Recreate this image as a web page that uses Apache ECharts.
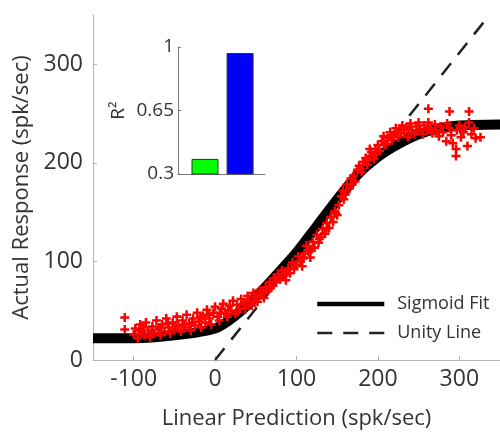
<!DOCTYPE html>
<html lang="en">
<head>
<meta charset="UTF-8">
<title>Sigmoid Fit</title>
<script src="https://cdn.jsdelivr.net/npm/echarts@6/dist/echarts.min.js"></script>
<style>
html,body{margin:0;padding:0;background:#fff;}
#chart{width:500px;height:435px;}
</style>
</head>
<body>
<div id="chart"></div>
<script>
// tick labels
var xTicks = [-100, 0, 100, 200, 300];
var yTicks = [0, 100, 200, 300];

// sigmoid fit
var fitX = [-150, -100, -50, 0, 25, 50, 75, 100, 125, 150, 175, 200, 225, 250, 275, 300, 350];
var fitY = [22, 22, 25, 32, 45, 64, 86, 109, 136, 163, 188, 206, 219, 229, 235, 238, 239];

// unity line
var unityX = [0, 337];
var unityY = [0, 350];

// measured responses [linear prediction, actual response]
var measured = [
  [-111,43],[-111,31],[-100,26],[-98,32],[-95,22],[-92,36],[-90,28],[-87,25],[-85,38],[-82,30],
  [-80,23],[-77,34],[-75,27],[-72,40],[-70,31],[-67,25],[-65,36],[-62,29],[-60,42],[-57,33],
  [-55,27],[-52,38],[-50,31],[-47,44],[-45,35],[-42,29],[-40,40],[-37,33],[-35,46],[-32,37],
  [-30,30],[-27,42],[-25,35],[-22,48],[-20,39],[-17,33],[-15,45],[-12,38],[-10,51],[-7,42],
  [-5,36],[-2,48],[0,54],
  [-93,30],[-88,33],[-78,29],[-68,33],[-58,37],[-48,35],[-38,36],[-28,38],[-18,43],[-8,46],
  [3,44],[5,40],[8,52],[10,57],[13,47],[15,44],[18,55],[20,50],[22,60],[25,47],
  [27,56],[30,52],[32,62],[35,57],[37,52],[40,65],[42,60],[45,55],[47,68],[50,64],
  [52,59],[55,71],[57,66],[60,63],[6,48],[16,50],[28,49],[38,58],[48,61],[58,69],
  [62,74],[65,70],[67,79],[70,75],[72,83],[75,79],[77,87],[80,82],[82,91],[85,86],
  [87,81],[90,93],[92,88],[95,99],[97,92],[100,97],[102,105],[105,100],[107,95],
  [68,73],[78,84],[88,89],[98,96],[108,103],
  [110,108],[112,116],[115,110],[117,104],[120,120],[122,114],[125,127],[127,119],[130,125],
  [132,133],[135,128],[137,139],[140,134],[142,145],[145,140],[147,151],[150,147],[152,157],
  [118,112],[128,123],[138,134],[148,149],
  [155,166],[157,172],[160,168],[162,178],[165,174],[167,184],[170,187],[172,181],[175,193],
  [177,197],[180,191],[182,201],[185,205],[187,198],[190,214],[190,207],[192,211],[195,204],
  [197,214],[200,218],[158,163],[168,178],[178,194],[188,203],[198,209],
  [202,212],[205,222],[207,227],[210,219],[212,225],[215,231],[217,223],[220,229],[222,235],
  [225,226],[227,233],[230,238],[232,230],[235,236],[237,226],[240,240],[242,233],[245,229],
  [247,237],[250,241],[252,234],[255,229],[257,238],[260,233],[262,255],
  [208,218],[218,227],[228,230],[238,234],[248,232],
  [262,241],[265,235],[267,230],[270,239],[272,233],[275,227],[277,237],[280,231],[284,222],
  [285,240],[288,252],[288,235],[290,228],[292,220],[296,214],[296,207],[297,233],[300,238],
  [302,226],[305,231],[307,236],[310,217],[312,252],[312,241],[315,229],[318,235],[320,225],
  [326,226]
];

// inset: R^2 of the two models
var r2Pos = [1, 2];
var r2Values = [0.383, 0.967];
var r2Colors = ['#00ff00', '#0000ff'];
var r2Ticks = [0.3, 0.65, 1];

var fitData = fitX.map(function (x, i) { return [x, fitY[i]]; });
var unityData = unityX.map(function (x, i) { return [x, unityY[i]]; });
var barData = r2Pos.map(function (p, i) {
  return { value: [p, r2Values[i]], itemStyle: { color: r2Colors[i] } };
});

var font = 'Open Sans';
var axisGray = '#b4b4b4';
var textGray = '#333';

var chart = echarts.init(document.getElementById('chart'));
var option = {
  animation: false,
  textStyle: { fontFamily: font },
  grid: [
    { left: 93, top: 15, width: 415, height: 348 },
    { left: 178, top: 47, width: 87, height: 127 }
  ],
  legend: {
    orient: 'vertical',
    left: 315,
    top: 295,
    padding: 0,
    itemWidth: 67,
    itemHeight: 14,
    itemGap: 11,
    selectedMode: false,
    itemStyle: { opacity: 0 },
    textStyle: { fontSize: 18, color: textGray, fontFamily: font, padding: [0, 0, 0, 8] },
    data: [
      { name: 'Sigmoid Fit', lineStyle: { width: 4.5, color: '#000' }, itemStyle: { opacity: 0 } },
      { name: 'Unity Line', lineStyle: { width: 2.5, color: '#222', type: [15, 11] }, itemStyle: { opacity: 0 } }
    ]
  },
  xAxis: [
    {
      type: 'value', gridIndex: 0, min: -150, max: 350,
      name: 'Linear Prediction (spk/sec)', nameLocation: 'middle', nameGap: 48,
      nameTextStyle: { fontSize: 22, color: textGray },
      axisLine: { onZero: false, lineStyle: { color: axisGray } },
      axisTick: { inside: true, length: 4, lineStyle: { color: axisGray }, customValues: xTicks },
      axisLabel: { fontSize: 23, color: textGray, margin: 8, customValues: xTicks },
      splitLine: { show: false }
    },
    {
      type: 'value', gridIndex: 1, min: 0.23, max: 2.71,
      axisLine: { onZero: false, lineStyle: { color: '#777' } },
      axisTick: { show: false },
      axisLabel: { show: false },
      splitLine: { show: false }
    }
  ],
  yAxis: [
    {
      type: 'value', gridIndex: 0, min: 0, max: 350,
      name: 'Actual Response (spk/sec)', nameLocation: 'middle', nameGap: 60,
      nameTextStyle: { fontSize: 22, color: textGray },
      axisLine: { show: true, onZero: false, lineStyle: { color: axisGray } },
      axisTick: { show: true, inside: true, length: 4, lineStyle: { color: axisGray }, customValues: yTicks },
      axisLabel: { fontSize: 23, color: textGray, margin: 10, customValues: yTicks },
      splitLine: { show: false }
    },
    {
      type: 'value', gridIndex: 1, min: 0.3, max: 1,
      name: 'R²', nameLocation: 'middle', nameGap: 50,
      nameTextStyle: { fontSize: 19, color: textGray },
      axisLine: { show: true, onZero: false, lineStyle: { color: '#777' } },
      axisTick: { show: true, inside: true, length: 3, lineStyle: { color: '#777' }, customValues: r2Ticks },
      axisLabel: { fontSize: 19, color: textGray, margin: 4, customValues: r2Ticks },
      splitLine: { show: false }
    }
  ],
  series: [
    {
      name: 'Unity Line', type: 'line', xAxisIndex: 0, yAxisIndex: 0,
      data: unityData, symbol: 'none', silent: true, z: 1,
      itemStyle: { color: '#222' },
      lineStyle: { color: '#222', width: 2.5, type: [15, 11] }
    },
    {
      name: 'Sigmoid Fit', type: 'line', xAxisIndex: 0, yAxisIndex: 0,
      data: fitData, symbol: 'none', smooth: 0.3, silent: true, z: 2,
      itemStyle: { color: '#000' },
      lineStyle: { color: '#000', width: 10 }
    },
    {
      name: 'Measured', type: 'scatter', xAxisIndex: 0, yAxisIndex: 0,
      data: measured, z: 3,
      symbol: 'path://M-1.4,-5H1.4V-1.4H5V1.4H1.4V5H-1.4V1.4H-5V-1.4H-1.4Z',
      symbolSize: 9,
      itemStyle: { color: '#ff0000', opacity: 1 }
    },
    {
      name: 'R2', type: 'bar', xAxisIndex: 1, yAxisIndex: 1,
      data: barData, barWidth: 27,
      itemStyle: { borderColor: '#333', borderWidth: 1 }
    }
  ]
};
chart.setOption(option);
</script>
</body>
</html>
